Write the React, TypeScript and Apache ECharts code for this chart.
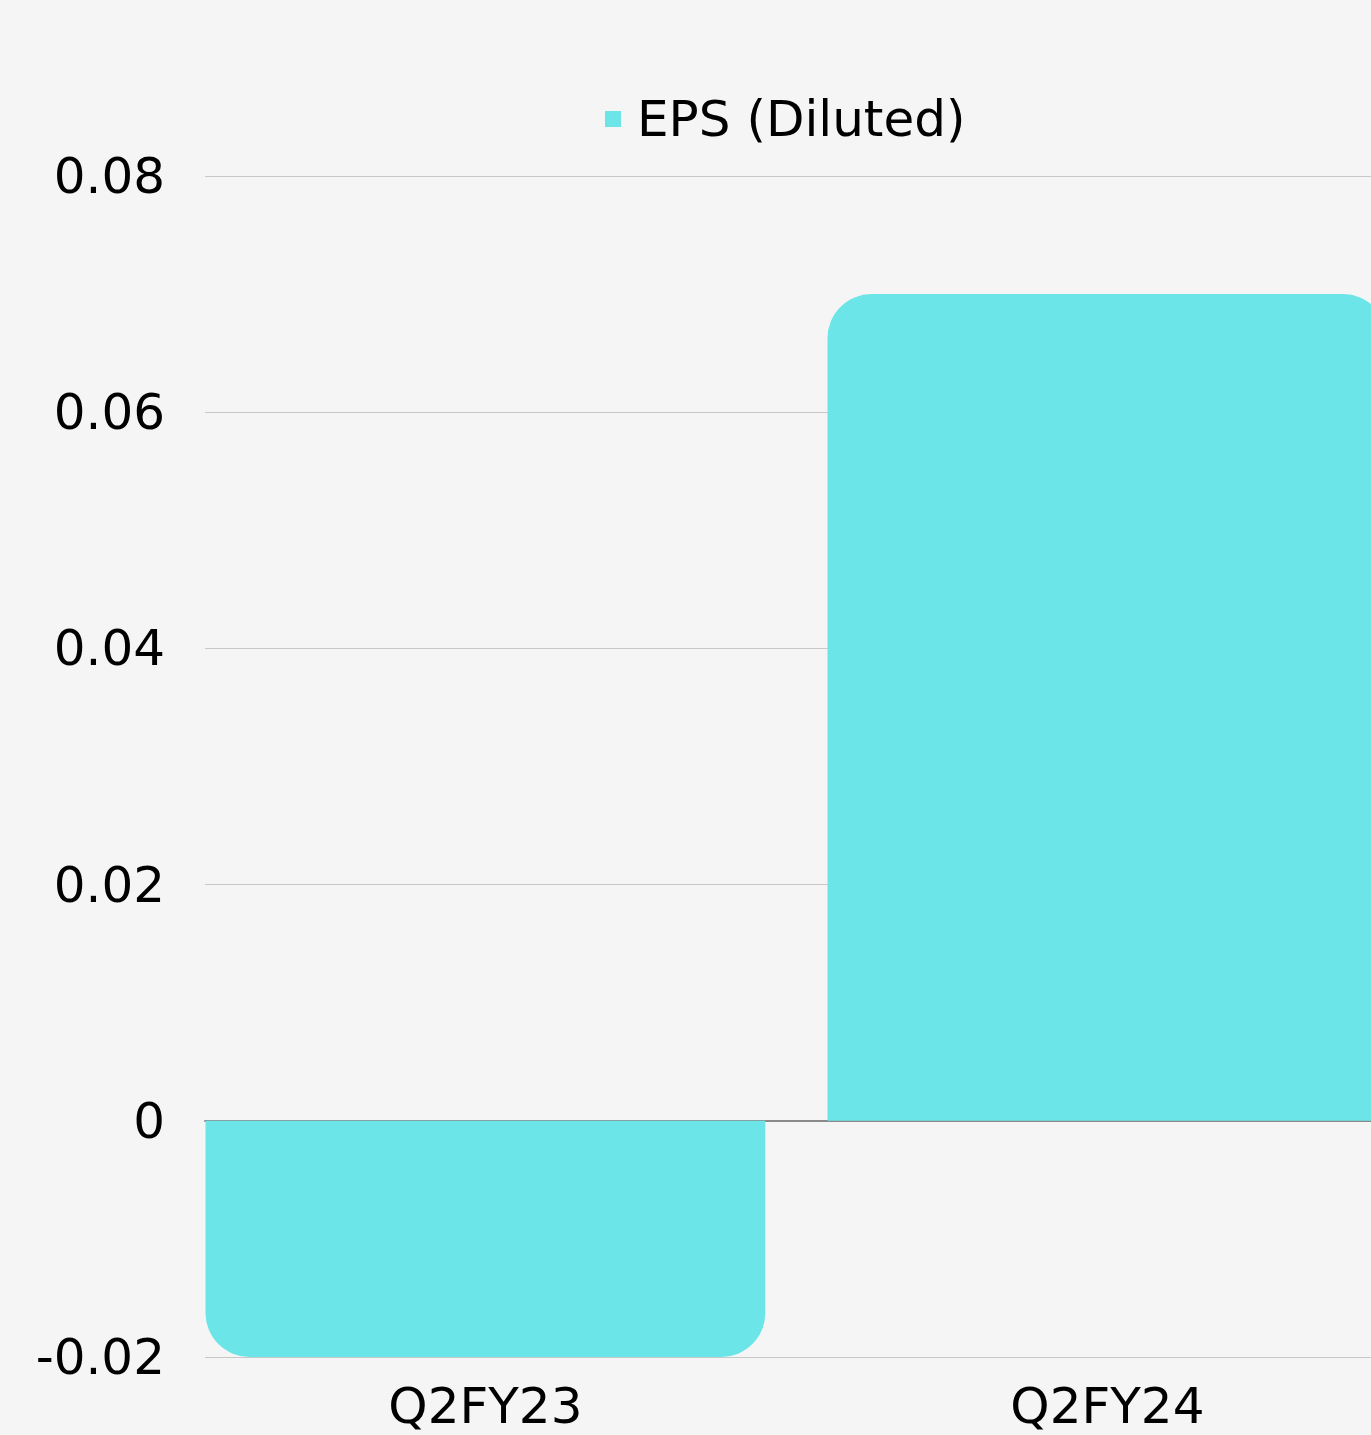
import React, { useEffect, useRef } from "react";
import * as echarts from "echarts";

const categories = ["Q2FY23", "Q2FY24"];
const epsDiluted = [-0.02, 0.07];
const seriesName = "EPS (Diluted)";
const yMin = -0.02;
const yMax = 0.08;
const yStep = 0.02;

const FONT = "DejaVu Sans";

export default function App() {
  const ref = useRef<HTMLDivElement>(null);
  useEffect(() => {
    document.body.style.margin = "0";
    const chart = echarts.init(ref.current!, null, { renderer: "svg" });
    chart.setOption({
      animation: false,
      backgroundColor: "#f5f5f5",
      legend: {
        data: [seriesName],
        left: 600,
        top: 89,
        icon: "rect",
        itemWidth: 16,
        itemHeight: 16,
        textStyle: {
          fontFamily: FONT,
          fontSize: 50,
          color: "#000",
          padding: [0, 0, 0, 11],
        },
      },
      grid: [
        { left: 205, right: 0, top: 176, bottom: 78, outerBoundsMode: "none", containLabel: false },
        { left: 174.4, width: 1244, top: 176, bottom: 78, outerBoundsMode: "none", containLabel: false },
      ],
      xAxis: [
        {
          type: "category",
          gridIndex: 0,
          data: categories,
          axisLine: { show: true, onZero: true, lineStyle: { color: "#8a8a8a", width: 2 } },
          axisTick: { show: false },
          axisLabel: { show: false },
          splitLine: { show: false },
        },
        {
          type: "category",
          gridIndex: 1,
          data: categories,
          axisLine: { show: false },
          axisTick: { show: false },
          axisLabel: {
            show: true,
            fontFamily: FONT,
            fontSize: 50,
            color: "#000",
            margin: 24,
          },
        },
      ],
      yAxis: [
        {
          type: "value",
          gridIndex: 0,
          min: yMin,
          max: yMax,
          interval: yStep,
          axisLine: { show: false },
          axisTick: { show: false },
          axisLabel: {
            fontFamily: FONT,
            fontSize: 50,
            color: "#000",
            margin: 40,
            formatter: (v: number) => (Math.abs(v) < 1e-9 ? "0" : v.toFixed(2)),
          },
          splitLine: { show: true, lineStyle: { color: "#c8c8c8", width: 1 } },
        },
        {
          type: "value",
          gridIndex: 1,
          min: yMin,
          max: yMax,
          interval: yStep,
          show: false,
          splitLine: { show: false },
        },
      ],
      series: [
        {
          name: seriesName,
          type: "bar",
          xAxisIndex: 1,
          yAxisIndex: 1,
          barWidth: "90%",
          itemStyle: { color: "#6ce5e8" },
          data: epsDiluted.map((v) => ({
            value: v,
            itemStyle: { borderRadius: v < 0 ? [0, 0, 44, 44] : [44, 44, 0, 0] },
          })),
        },
      ],
    });
    return () => chart.dispose();
  }, []);
  return <div ref={ref} style={{ width: 1371, height: 1435 }} />;
}
